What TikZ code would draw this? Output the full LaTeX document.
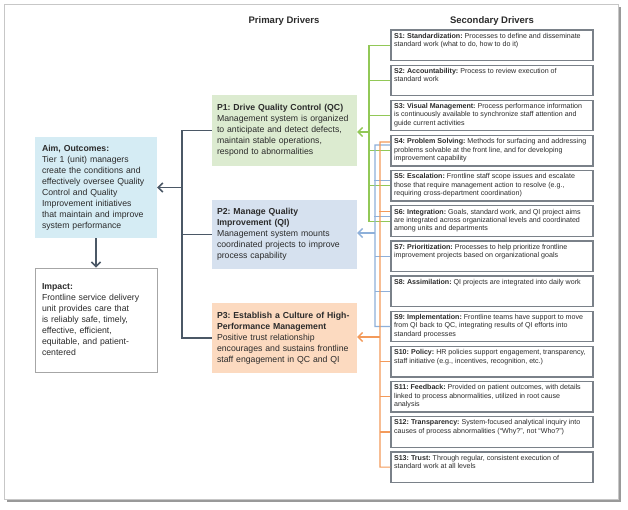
\documentclass[tikz,border=0pt]{standalone}
\usepackage{fontspec}
\setmainfont{Liberation Sans}
\usetikzlibrary{arrows.meta}
\frenchspacing
\definecolor{aimfill}{HTML}{D5ECF4}
\definecolor{p1fill}{HTML}{DCEBD0}
\definecolor{p2fill}{HTML}{D6E1EF}
\definecolor{p3fill}{HTML}{FCDAC0}
\definecolor{gline}{HTML}{92C857}
\definecolor{bline}{HTML}{8EB0DA}
\definecolor{oline}{HTML}{F39A5A}
\definecolor{dline}{HTML}{4B5866}
\definecolor{sborder}{HTML}{7A8189}
\definecolor{txtc}{HTML}{2B2B2B}
\begin{document}
\begin{tikzpicture}[x=1pt,y=-1pt,
  bigtxt/.style={text=txtc, font=\fontsize{8.7}{11}\selectfont, align=left},
  pbox/.style={bigtxt, inner xsep=5pt, inner ysep=0pt, text width=135pt, minimum height=70pt},
  lbox/.style={bigtxt, inner xsep=7pt, inner ysep=0pt, text width=108pt},
  sbox/.style={draw=sborder, line width=1.3pt, fill=white, minimum width=202pt, minimum height=30.5pt, inner sep=0pt},
  stext/.style={text=txtc, font=\fontsize{7.1}{8.4}\selectfont, align=left, inner sep=0pt, anchor=north west},
  head/.style={text=txtc, font=\fontsize{9.5}{11}\selectfont\bfseries},
  dcon/.style={draw=dline, line width=1.6pt},
  gcon/.style={draw=gline, line width=1.1pt},
  bcon/.style={draw=bline, line width=1.1pt},
  ocon/.style={draw=oline, line width=1.1pt},
  tip/.style={-{Straight Barb[length=4.5pt,width=9pt]}, line width=1.6pt}
]
\useasboundingbox (0,0) rectangle (628,509);
% frame with shadow
\fill[black!40] (7,7) rectangle (621,502);
\filldraw[fill=white, draw=black!22, line width=0.8pt] (4,4) rectangle (618,499);

% headers
\node[head] (hp) at (284,21) {Primary Drivers};
\node[head] (hs) at (492,21) {Secondary Drivers};

% left boxes
\node[lbox, fill=aimfill, minimum height=101pt] (aim) at (96,187.5)
  {\textbf{Aim, Outcomes:}\\Tier 1 (unit) managers\\create the conditions and\\effectively oversee Quality\\Control and Quality\\Improvement initiatives\\that maintain and improve\\system performance};
\node[lbox, fill=white, draw=black!35, line width=0.9pt, minimum height=104pt] (imp) at (96,320)
  {\textbf{Impact:}\\Frontline service delivery\\unit provides care that\\is reliably safe, timely,\\effective, efficient,\\equitable, and patient-\\centered};

% primary drivers
\node[pbox, fill=p1fill, minimum height=71pt] (P1) at (284.5,130.5)
  {\textbf{P1: Drive Quality Control (QC)}\\Management system is organized\\to anticipate and detect defects,\\maintain stable operations,\\respond to abnormalities};
\node[pbox, fill=p2fill, minimum height=69pt] (P2) at (284.5,234.5)
  {\textbf{P2: Manage Quality}\\\textbf{Improvement (QI)}\\Management system mounts\\coordinated projects to improve\\process capability};
\node[pbox, fill=p3fill, minimum height=70pt] (P3) at (284.5,338)
  {\textbf{P3: Establish a Culture of High-}\\\textbf{Performance Management}\\Positive trust relationship\\encourages and sustains frontline\\staff engagement in QC and QI};

% secondary drivers
\foreach \i/\t in {
 1/{\textbf{S1: Standardization:} Processes to define and disseminate\\standard work (what to do, how to do it)},
 2/{\textbf{S2: Accountability:} Process to review execution of\\standard work},
 3/{\textbf{S3: Visual Management:} Process performance information\\is continuously available to synchronize staff attention and\\guide current activities},
 4/{\textbf{S4: Problem Solving:} Methods for surfacing and addressing\\problems solvable at the front line, and for developing\\improvement capability},
 5/{\textbf{S5: Escalation:} Frontline staff scope issues and escalate\\those that require management action to resolve (e.g.,\\requiring cross-department coordination)},
 6/{\textbf{S6: Integration:} Goals, standard work, and QI project aims\\are integrated across organizational levels and coordinated\\among units and departments},
 7/{\textbf{S7: Prioritization:} Processes to help prioritize frontline\\improvement projects based on organizational goals},
 8/{\textbf{S8: Assimilation:} QI projects are integrated into daily work},
 9/{\textbf{S9: Implementation:} Frontline teams have support to move\\from QI back to QC, integrating results of QI efforts into\\standard processes},
 10/{\textbf{S10: Policy:} HR policies support engagement, transparency,\\staff initiative (e.g., incentives, recognition, etc.)},
 11/{\textbf{S11: Feedback:} Provided on patient outcomes, with details\\linked to process abnormalities, utilized in root cause\\analysis},
 12/{\textbf{S12: Transparency:} System-focused analytical inquiry into\\causes of process abnormalities (“Why?”, not “Who?”)},
 13/{\textbf{S13: Trust:} Through regular, consistent execution of\\standard work at all levels}}
{
  \node[sbox] (S\i) at (492,{45.25+35.16*(\i-1)}) {};
  \node[stext] (T\i) at ([xshift=3.5pt,yshift=-3.5pt]S\i.north west) {\t};
}

% dark connectors
\coordinate (dT) at (182,0 |- P1.west);
\coordinate (dB) at (182,0 |- P3.west);
\coordinate (dM) at (182,0 |- P2.west);
\coordinate (dA) at (182,0 |- aim.east);
\draw[dcon] (P1.west) -- (dT) -- (dB) -- (P3.west);
\draw[dcon] (P2.west) -- (dM);
\draw[dcon, tip] (dA) -- (aim.east);
\draw[dcon, tip] (aim.south) -- (imp.north);

% green connectors (P1)
\coordinate (gT) at (369,0 |- S1.west);
\coordinate (gB) at (369,0 |- S6.west);
\coordinate (gA) at (369,132);
\draw[gcon] (S1.west) -- (gT) -- (gB) -- (S6.west);
\foreach \i in {2,3,4,5} \draw[gcon] (S\i.west) -- (S\i.west -| gT);
\draw[gcon, tip, line width=1.4pt] (gA) -- (gA -| P1.east);

% blue connectors (P2)
\coordinate (bT) at (375,145);
\coordinate (bB) at (375,0 |- S9.west);
\coordinate (bA) at (375,233);
\draw[bcon] ([yshift=5.7pt]S4.west) -- (bT) -- (bB) -- (S9.west);
\draw[bcon] ([yshift=5pt]S5.west) -- ++(-16,0);
\draw[bcon] ([yshift=5pt]S6.west) -- ++(-16,0);
\foreach \i in {7,8} \draw[bcon] (S\i.west) -- (S\i.west -| bT);
\draw[bcon, tip, line width=1.4pt] (bA) -- (bA -| P2.east);

% orange connectors (P3)
\coordinate (oT) at (380,142);
\coordinate (oB) at (380,0 |- S13.west);
\coordinate (oA) at (380,337);
\draw[ocon] ([yshift=8.7pt]S4.west) -- (oT) -- (oB) -- (S13.west);
\draw[ocon] ([yshift=10pt]S6.west) -- ++(-11,0);
\foreach \i in {10,11,12} \draw[ocon] (S\i.west) -- (S\i.west -| oT);
\draw[ocon, tip, line width=1.4pt] (oA) -- (oA -| P3.east);
\end{tikzpicture}
\end{document}
